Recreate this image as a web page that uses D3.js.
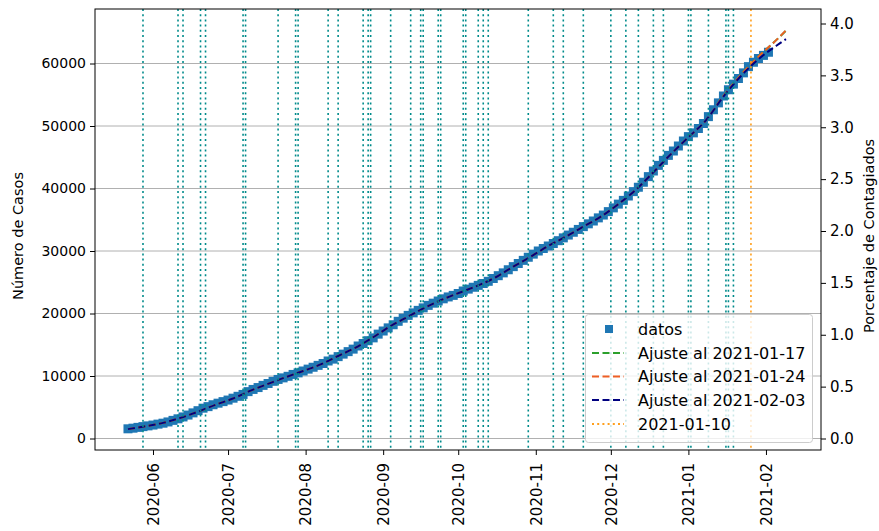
<!DOCTYPE html>
<html>
<head>
<meta charset="utf-8">
<script src="https://cdn.jsdelivr.net/npm/d3@7"></script>
<style>
  html, body { margin: 0; padding: 0; background: #ffffff; }
  svg { display: block; font-family: "DejaVu Sans", sans-serif; }
</style>
</head>
<body>
<svg id="chart" width="879" height="531"></svg>
<script>
// ---------------- DATA ----------------
// observed cumulative cases, one value every 2 days starting 2020-05-22
const dataStart = "2020-05-22";
const dataStepDays = 2;
const casos = [
  // May 22 - May 30
  1550, 1650, 1780, 1900, 2020,
  // Jun 1 - Jun 29
  2150, 2300, 2450, 2650, 2900, 3150, 3450, 3750, 4100, 4450, 4850, 5100, 5400, 5650, 5900,
  // Jul 1 - Jul 31
  6150, 6450, 6750, 7050, 7500, 7850, 8150, 8500, 8800, 9150, 9450, 9700, 9950, 10250, 10500, 10800,
  // Aug 2 - Aug 30
  11100, 11400, 11700, 12000, 12400, 12700, 13100, 13500, 13900, 14300, 14800, 15200, 15650, 16100, 16700,
  // Sep 1 - Sep 29
  17200, 17700, 18200, 18750, 19250, 19700, 20100, 20500, 20900, 21300, 21650, 22000, 22350, 22650, 22900,
  // Oct 1 - Oct 31
  23200, 23600, 23900, 24200, 24500, 24800, 25150, 25600, 26050, 26500, 27000, 27500, 28000, 28500, 29000, 29500,
  // Nov 2 - Nov 30
  30000, 30400, 30800, 31200, 31650, 32100, 32550, 33000, 33450, 33900, 34350, 34800, 35300, 35750, 36300,
  // Dec 2 - Dec 30
  36900, 37500, 38100, 38800, 39500, 40200, 41000, 41900, 42800, 43700, 44500, 45300, 46000, 46800, 47600,
  // Jan 1 - Jan 31
  48300, 48900, 49600, 50400, 51500, 52600, 53700, 54800, 55800, 56700, 57600, 58500, 59500, 60200, 60800, 61300,
  // Feb 2
  61800
];

// fitted curves, sampled weekly
const fitDates = [
  "2020-05-22","2020-05-29","2020-06-05","2020-06-12","2020-06-19","2020-06-26",
  "2020-07-03","2020-07-10","2020-07-17","2020-07-24","2020-07-31",
  "2020-08-07","2020-08-14","2020-08-21","2020-08-28",
  "2020-09-04","2020-09-11","2020-09-18","2020-09-25",
  "2020-10-02","2020-10-09","2020-10-16","2020-10-23","2020-10-30",
  "2020-11-06","2020-11-13","2020-11-20","2020-11-27",
  "2020-12-04","2020-12-11","2020-12-18","2020-12-25",
  "2021-01-01","2021-01-08","2021-01-15","2021-01-22","2021-01-29",
  "2021-02-05","2021-02-09"
];
const ajuste0117 = [
  1500, 1950, 2500, 3300, 4300, 5400, 6400, 7650, 8750, 9800, 10800,
  11850, 13200, 14550, 16200, 18000, 19500, 21000, 22300,
  23400, 24500, 25800, 27500, 29100, 30800, 32300, 33900, 35500,
  37500, 39800, 42600, 45500, 48200, 50900, 54800, 58200, 61100, 63700, 65250
];
const ajuste0124 = [
  1500, 1950, 2500, 3300, 4300, 5400, 6400, 7650, 8750, 9800, 10800,
  11850, 13200, 14550, 16200, 18000, 19500, 21000, 22300,
  23400, 24500, 25800, 27500, 29100, 30800, 32300, 33900, 35500,
  37500, 39800, 42600, 45500, 48200, 50900, 54800, 58200, 61100, 63700, 65300
];
const ajuste0203 = [
  1500, 1950, 2500, 3300, 4300, 5400, 6400, 7650, 8750, 9800, 10800,
  11850, 13200, 14550, 16200, 18000, 19500, 21000, 22300,
  23400, 24500, 25800, 27500, 29100, 30800, 32300, 33900, 35500,
  37500, 39800, 42600, 45500, 48200, 50900, 54700, 58000, 60700, 62800, 63900
];

// marked dates (dotted vertical lines)
const fechasMarcadas = [
  "2020-05-28","2020-06-11","2020-06-13","2020-06-20","2020-06-22",
  "2020-07-07","2020-07-08","2020-07-21","2020-07-28","2020-07-29",
  "2020-08-10","2020-08-14","2020-08-24","2020-08-26","2020-08-27",
  "2020-09-04","2020-09-12","2020-09-16","2020-09-17","2020-09-23","2020-09-24",
  "2020-10-03","2020-10-04","2020-10-09","2020-10-11","2020-10-13","2020-10-29",
  "2020-11-08","2020-11-12","2020-11-20","2020-12-01","2020-12-07","2020-12-12",
  "2020-12-18","2020-12-22","2021-01-01","2021-01-02","2021-01-09",
  "2021-01-16","2021-01-17","2021-01-19"
];
const fechaCorte = "2021-01-26";

const leftTicks = [0, 10000, 20000, 30000, 40000, 50000, 60000];
const rightTicks = [0.0, 0.5, 1.0, 1.5, 2.0, 2.5, 3.0, 3.5, 4.0];
const poblacion = 1660000;

const legendLabels = ["datos", "Ajuste al 2021-01-17", "Ajuste al 2021-01-24", "Ajuste al 2021-02-03", "2021-01-10"];

// ---------------- DRAW ----------------
const parse = d3.timeParse("%Y-%m-%d");
const svg = d3.select("#chart");
const L = 95, R = 821, T = 9, B = 450;

const x = d3.scaleTime()
  .domain([new Date(2020, 4, 8, 19, 40), new Date(2021, 1, 23, 0, 0)])
  .range([L, R]);
const yMin = -1840, yMax = 68720;
const y = d3.scaleLinear().domain([yMin, yMax]).range([B, T]);
const y2 = d3.scaleLinear().domain([yMin / poblacion * 100, yMax / poblacion * 100]).range([B, T]);

const start = parse(dataStart);
const pts = casos.map((v, i) => ({ d: d3.timeDay.offset(start, i * dataStepDays), v }));
const fd = fitDates.map(parse);

svg.append("defs").append("clipPath").attr("id", "clip")
  .append("rect").attr("x", L).attr("y", T).attr("width", R - L).attr("height", B - T);

// grid (horizontal, from left axis)
svg.append("g").selectAll("line").data(leftTicks).join("line")
  .attr("x1", L).attr("x2", R)
  .attr("y1", d => y(d)).attr("y2", d => y(d))
  .attr("stroke", "#b0b0b0").attr("stroke-width", 1);

const plot = svg.append("g").attr("clip-path", "url(#clip)");

// data squares
const ms = 9;
plot.append("g").selectAll("rect").data(pts).join("rect")
  .attr("x", d => x(d.d) - ms / 2).attr("y", d => y(d.v) - ms / 2)
  .attr("width", ms).attr("height", ms)
  .attr("fill", "#1f77b4");

// fits
const fits = [
  { vals: ajuste0117, color: "#2ca02c" },
  { vals: ajuste0124, color: "#ee5f24" },
  { vals: ajuste0203, color: "#000080" }
];
const line = d3.line().curve(d3.curveMonotoneX).x(d => x(d[0])).y(d => y(d[1]));
fits.forEach(f => {
  plot.append("path")
    .datum(fd.map((d, i) => [d, f.vals[i]]))
    .attr("d", line)
    .attr("fill", "none")
    .attr("stroke", f.color)
    .attr("stroke-width", 2)
    .attr("stroke-dasharray", "7,3.5");
});

// dotted vertical lines
plot.append("g").selectAll("line").data(fechasMarcadas.map(parse)).join("line")
  .attr("x1", d => x(d)).attr("x2", d => x(d))
  .attr("y1", T).attr("y2", B)
  .attr("stroke", "#008b8b").attr("stroke-width", 1.6)
  .attr("stroke-dasharray", "2,3.2");

plot.append("line")
  .attr("x1", x(parse(fechaCorte))).attr("x2", x(parse(fechaCorte)))
  .attr("y1", T).attr("y2", B)
  .attr("stroke", "#ff9f1c").attr("stroke-width", 1.6)
  .attr("stroke-dasharray", "2,3.2");

// frame
svg.append("rect").attr("x", L).attr("y", T).attr("width", R - L).attr("height", B - T)
  .attr("fill", "none").attr("stroke", "#000").attr("stroke-width", 1);

// axes
const axL = svg.append("g").attr("transform", `translate(${L},0)`)
  .call(d3.axisLeft(y).tickValues(leftTicks).tickFormat(d3.format("d")).tickSize(5).tickPadding(4));
const axR = svg.append("g").attr("transform", `translate(${R},0)`)
  .call(d3.axisRight(y2).tickValues(rightTicks).tickFormat(d3.format(".1f")).tickSize(5).tickPadding(4));
const axB = svg.append("g").attr("transform", `translate(0,${B})`)
  .call(d3.axisBottom(x).ticks(d3.timeMonth.every(1)).tickFormat(d3.timeFormat("%Y-%m")).tickSize(5));
[[axL, 14], [axR, 15], [axB, 15]].forEach(([a, fs]) => {
  a.select(".domain").remove();
  a.selectAll(".tick line").attr("stroke", "#000");
  a.selectAll(".tick text").attr("fill", "#000").style("font-size", fs + "px")
    .style("font-family", "DejaVu Sans");
});
axB.selectAll(".tick text")
  .attr("transform", "rotate(-90)")
  .attr("x", -13).attr("y", 0).attr("dy", "0.35em")
  .attr("text-anchor", "end");

// axis labels
const labelY = 236;
svg.append("text")
  .attr("transform", `translate(18,${labelY}) rotate(-90)`)
  .attr("text-anchor", "middle").attr("dominant-baseline", "central")
  .style("font-size", "14.5px").text("Número de Casos");
svg.append("text")
  .attr("transform", `translate(869,${labelY}) rotate(-90)`)
  .attr("text-anchor", "middle").attr("dominant-baseline", "central")
  .style("font-size", "14.5px").text("Porcentaje de Contagiados");

// legend
const lg = svg.append("g");
lg.append("rect").attr("x", 585.5).attr("y", 314.5).attr("width", 227).attr("height", 128).attr("rx", 3)
  .attr("fill", "#ffffff").attr("fill-opacity", 0.8).attr("stroke", "#cccccc");
const rowY = [329, 353, 376.5, 400, 424];
const legendStyles = [
  { type: "marker", color: "#1f77b4" },
  { type: "line", color: "#2ca02c", dash: "7,3.5" },
  { type: "line", color: "#ee5f24", dash: "7,3.5" },
  { type: "line", color: "#000080", dash: "7,3.5" },
  { type: "line", color: "#ff9f1c", dash: "2,3.2" }
];
legendLabels.forEach((lab, i) => {
  const s = legendStyles[i];
  if (s.type === "marker") {
    lg.append("rect").attr("x", 609 - 4).attr("y", rowY[i] - 4).attr("width", 8).attr("height", 8).attr("fill", s.color);
  } else {
    lg.append("line").attr("x1", 592).attr("x2", 624).attr("y1", rowY[i]).attr("y2", rowY[i])
      .attr("stroke", s.color).attr("stroke-width", 2).attr("stroke-dasharray", s.dash);
  }
  lg.append("text").attr("x", 638).attr("y", rowY[i]).attr("dy", "0.35em")
    .style("font-size", "16px").attr("fill", "#000").text(lab);
});
</script>
</body>
</html>
